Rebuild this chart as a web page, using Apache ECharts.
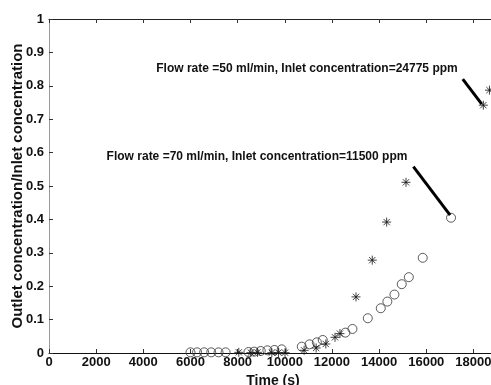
<!DOCTYPE html>
<html>
<head>
<meta charset="utf-8">
<script src="https://cdn.jsdelivr.net/npm/echarts@6/dist/echarts.min.js"></script>
<style>html,body{margin:0;padding:0;background:#fff;}#c{width:491px;height:385px;}</style>
</head>
<body>
<div id="c"></div>
<script>
// Flow rate 70 ml/min, inlet 11500 ppm (open circles)
const circleX = [6000, 6280, 6580, 6880, 7190, 7490, 8460, 8700, 8980, 9260, 9560, 9870, 10720, 11050, 11360, 11610, 12570, 12870, 13520, 14070, 14350, 14650, 14960, 15260, 15850, 17050];
const circleY = [0.002, 0.002, 0.002, 0.002, 0.002, 0.002, 0.003, 0.004, 0.006, 0.008, 0.009, 0.011, 0.019, 0.026, 0.032, 0.039, 0.061, 0.072, 0.104, 0.134, 0.154, 0.175, 0.206, 0.227, 0.285, 0.405];
// Flow rate 50 ml/min, inlet 24775 ppm (asterisks)
const starX = [8050, 8560, 8840, 9450, 9730, 10010, 10820, 11330, 11740, 12130, 12340, 13020, 13710, 14320, 15140, 18420, 18680];
const starY = [0.002, 0.001, 0.002, 0.001, 0.001, 0.001, 0.008, 0.015, 0.027, 0.047, 0.058, 0.168, 0.278, 0.392, 0.511, 0.742, 0.787];
const xTicks = [0, 2000, 4000, 6000, 8000, 10000, 12000, 14000, 16000, 18000];
const yTicks = [0, 0.1, 0.2, 0.3, 0.4, 0.5, 0.6, 0.7, 0.8, 0.9, 1];
const label50 = 'Flow rate =50 ml/min, Inlet concentration=24775 ppm';
const label70 = 'Flow rate =70 ml/min, Inlet concentration=11500 ppm';
const arrow50 = [[17548, 0.820], [18354, 0.745]];
const arrow70 = [[15453, 0.558], [17010, 0.413]];

const FONT = '"Liberation Sans", Arial, sans-serif';
const chart = echarts.init(document.getElementById('c'));
const zip = (a, b) => a.map((v, i) => [v, b[i]]);
const asterisk = 'path://M5,0L5,10M0,5L10,5M1.5,1.5L8.5,8.5M1.5,8.5L8.5,1.5';

chart.setOption({
  animation: false,
  backgroundColor: '#fff',
  grid: { left: 49, top: 19, right: -6, bottom: 32, containLabel: false, outerBoundsMode: 'none' },
  xAxis: [{
    type: 'value', min: 0, max: 19000, interval: 2000,
    name: 'Time (s)', nameLocation: 'middle', nameGap: 21, nameMoveOverlap: false,
    nameTextStyle: { fontFamily: FONT, fontWeight: 'bold', fontSize: 14, color: '#111' },
    axisLine: { show: true, lineStyle: { color: '#111', width: 1 } },
    axisTick: { show: true, inside: true, length: 4, lineStyle: { color: '#333' } },
    axisLabel: { fontFamily: FONT, fontWeight: 'bold', fontSize: 13, color: '#111', margin: 3,
      formatter: v => xTicks.indexOf(v) >= 0 ? String(v) : '' },
    splitLine: { show: false }
  }, {
    type: 'value', position: 'top', min: 0, max: 19000, interval: 2000,
    axisLine: { show: true, lineStyle: { color: '#222', width: 1 } },
    axisTick: { show: true, inside: true, length: 4, lineStyle: { color: '#333' } },
    axisLabel: { show: false }, splitLine: { show: false }
  }],
  yAxis: {
    type: 'value', min: 0, max: 1, interval: 0.1,
    name: 'Outlet concentration/Inlet concentration', nameLocation: 'middle', nameGap: 24, nameMoveOverlap: false,
    nameTextStyle: { fontFamily: FONT, fontWeight: 'bold', fontSize: 15, color: '#111' },
    axisLine: { show: true, lineStyle: { color: '#999', width: 1 } },
    axisTick: { show: true, inside: true, length: 4, lineStyle: { color: '#333' } },
    axisLabel: { fontFamily: FONT, fontWeight: 'bold', fontSize: 13, color: '#111', margin: 5,
      formatter: v => { const t = yTicks.find(k => Math.abs(k - v) < 1e-9); return t === undefined ? '' : String(t); } },
    splitLine: { show: false }
  },
  series: [{
    type: 'scatter', name: '70 ml/min',
    data: zip(circleX, circleY),
    symbol: 'circle', symbolSize: 9,
    itemStyle: { color: 'transparent', borderColor: '#333', borderWidth: 1 },
    markLine: {
      silent: true, symbol: 'none', label: { show: false },
      lineStyle: { color: '#000', width: 3, type: 'solid' },
      data: [[{ coord: arrow70[0] }, { coord: arrow70[1] }]]
    }
  }, {
    type: 'scatter', name: '50 ml/min',
    data: zip(starX, starY),
    symbol: asterisk, symbolSize: 9,
    itemStyle: { color: 'transparent', borderColor: '#111', borderWidth: 1 },
    markLine: {
      silent: true, symbol: 'none', label: { show: false },
      lineStyle: { color: '#000', width: 3, type: 'solid' },
      data: [[{ coord: arrow50[0] }, { coord: arrow50[1] }]]
    }
  }],
  graphic: [{
    type: 'text', x: 307, y: 69,
    style: { text: label50, fill: '#111', font: 'bold 12px ' + FONT, align: 'center', verticalAlign: 'middle' }
  }, {
    type: 'text', x: 257, y: 157,
    style: { text: label70, fill: '#111', font: 'bold 12px ' + FONT, align: 'center', verticalAlign: 'middle' }
  }]
});
</script>
</body>
</html>
